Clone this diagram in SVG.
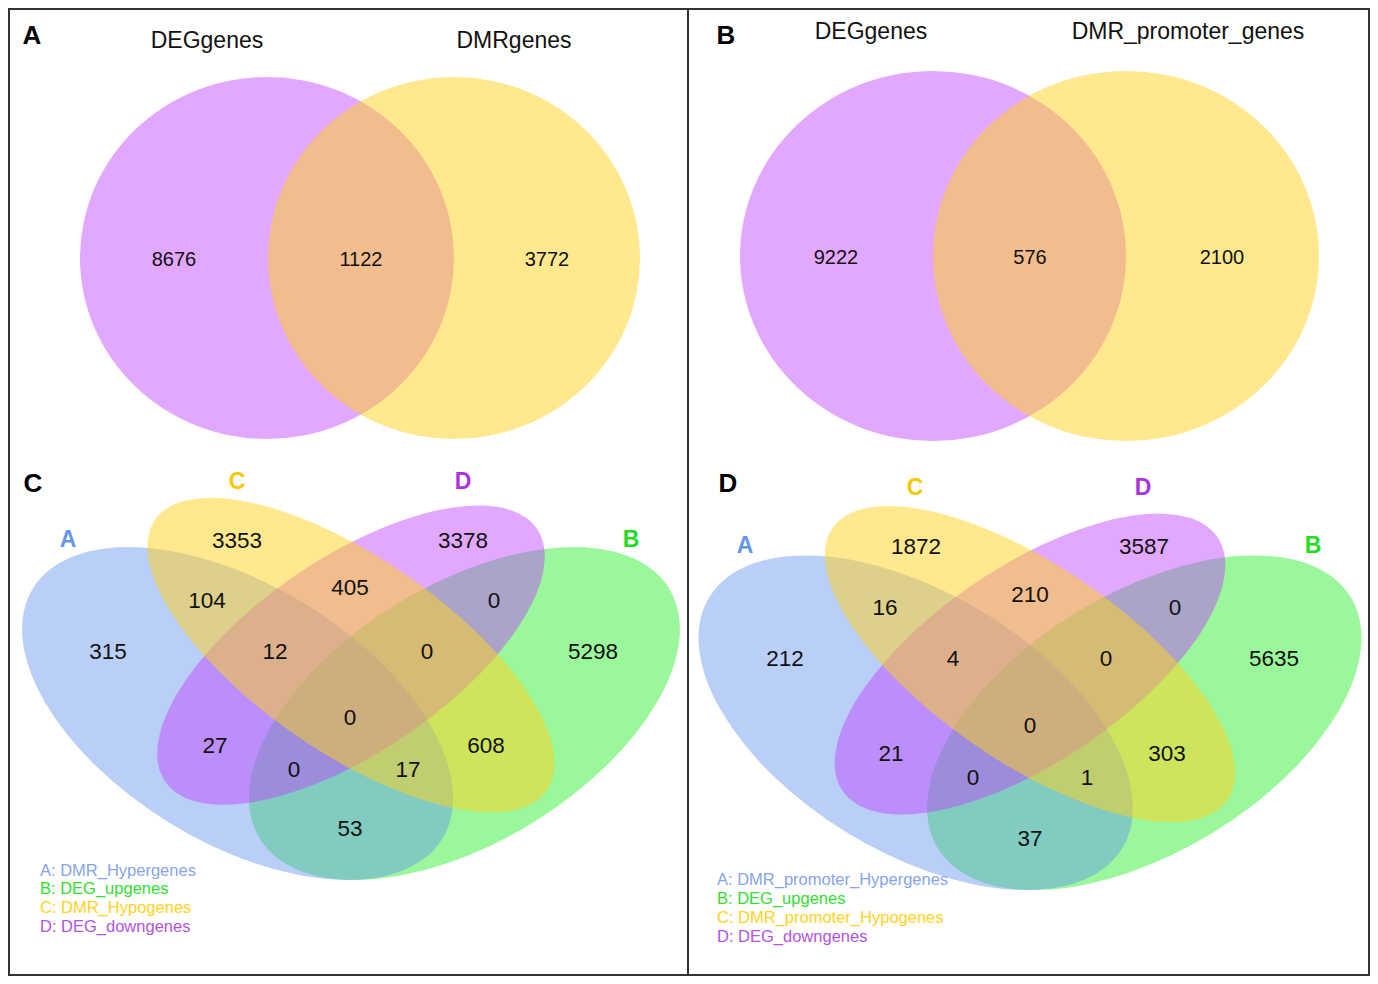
<svg xmlns="http://www.w3.org/2000/svg" width="1378" height="984" viewBox="0 0 1378 984">
<style>
text{font-family:"Liberation Sans",Arial,Helvetica,sans-serif;text-anchor:middle;fill:#111}
.title{font-size:23px}
.num{font-size:20px}
.num4{font-size:22.5px}
.plabel{font-size:26px;font-weight:bold;fill:#000}
.set{font-size:23px;font-weight:bold}
.leg{font-size:16.5px;text-anchor:start}
.fa{fill:#6495ed;fill-opacity:0.45}
.fb{fill:#22ee22;fill-opacity:0.45}
.fc{fill:#ffd21e;fill-opacity:0.5}
.fd{fill:#bf3eff;fill-opacity:0.45}
.frame{fill:none;stroke:#333;stroke-width:2}
.ca{fill:#6495ed}
.cb{fill:#22dd22}
.cc{fill:#f5c800}
.cd{fill:#aa33dd}
.la{fill:#86a4ee}
.lb{fill:#33dd33}
.lc{fill:#ffd21e}
.ld{fill:#b352e3}
</style>
<rect x="0" y="0" width="1378" height="984" fill="#fff"/>
<g id="frame">
<rect class="frame" x="9" y="9" width="1360" height="966"/>
<line class="frame" x1="688" y1="9" x2="688" y2="975"/>
</g>

<g id="panelA">
<text class="plabel" x="32" y="44">A</text>
<text class="title" x="207" y="48">DEGgenes</text>
<text class="title" x="514" y="48">DMRgenes</text>
<ellipse class="fd" cx="267" cy="258" rx="187" ry="181"/>
<ellipse class="fc" cx="454" cy="258" rx="186" ry="181"/>
<text class="num" x="174" y="266">8676</text>
<text class="num" x="361" y="266">1122</text>
<text class="num" x="547" y="266">3772</text>
</g>

<g id="panelB">
<text class="plabel" x="726" y="44">B</text>
<text class="title" x="871" y="39">DEGgenes</text>
<text class="title" x="1188" y="39">DMR_promoter_genes</text>
<ellipse class="fd" cx="933" cy="256" rx="193" ry="185"/>
<ellipse class="fc" cx="1126" cy="256" rx="193" ry="185"/>
<text class="num" x="836" y="264">9222</text>
<text class="num" x="1030" y="264">576</text>
<text class="num" x="1222" y="264">2100</text>
</g>

<g id="panelC">
<text class="plabel" x="33" y="492">C</text>
<g transform="translate(-27 988) scale(756 -584)">
<ellipse class="fb" cx="0" cy="0" rx="0.35" ry="0.20" transform="translate(0.65 0.47) rotate(45)"/>
<ellipse class="fa" cx="0" cy="0" rx="0.35" ry="0.20" transform="translate(0.35 0.47) rotate(-45)"/>
<ellipse class="fd" cx="0" cy="0" rx="0.33" ry="0.15" transform="translate(0.5 0.57) rotate(45)"/>
<ellipse class="fc" cx="0" cy="0" rx="0.35" ry="0.15" transform="translate(0.5 0.57) rotate(-45)"/>
</g>
<text class="set ca" x="68" y="547">A</text>
<text class="set cb" x="631" y="547">B</text>
<text class="set cc" x="237" y="489">C</text>
<text class="set cd" x="463" y="489">D</text>
<text class="num4" x="237" y="548">3353</text>
<text class="num4" x="463" y="548">3378</text>
<text class="num4" x="207" y="608">104</text>
<text class="num4" x="350" y="595">405</text>
<text class="num4" x="494" y="608">0</text>
<text class="num4" x="108" y="659">315</text>
<text class="num4" x="275" y="659">12</text>
<text class="num4" x="427" y="659">0</text>
<text class="num4" x="593" y="659">5298</text>
<text class="num4" x="350" y="725">0</text>
<text class="num4" x="215" y="753">27</text>
<text class="num4" x="486" y="753">608</text>
<text class="num4" x="294" y="777">0</text>
<text class="num4" x="408" y="777">17</text>
<text class="num4" x="350" y="836">53</text>
<text class="leg la" x="40" y="876">A: DMR_Hypergenes</text>
<text class="leg lb" x="40" y="894">B: DEG_upgenes</text>
<text class="leg lc" x="40" y="913">C: DMR_Hypogenes</text>
<text class="leg ld" x="40" y="932">D: DEG_downgenes</text>
</g>

<g id="panelD">
<text class="plabel" x="728" y="492">D</text>
<g transform="translate(649 998.6) scale(762 -587)">
<ellipse class="fb" cx="0" cy="0" rx="0.35" ry="0.20" transform="translate(0.65 0.47) rotate(45)"/>
<ellipse class="fa" cx="0" cy="0" rx="0.35" ry="0.20" transform="translate(0.35 0.47) rotate(-45)"/>
<ellipse class="fd" cx="0" cy="0" rx="0.33" ry="0.15" transform="translate(0.5 0.57) rotate(45)"/>
<ellipse class="fc" cx="0" cy="0" rx="0.35" ry="0.15" transform="translate(0.5 0.57) rotate(-45)"/>
</g>
<text class="set ca" x="745" y="553">A</text>
<text class="set cb" x="1313" y="553">B</text>
<text class="set cc" x="915" y="495">C</text>
<text class="set cd" x="1143" y="495">D</text>
<text class="num4" x="916" y="554">1872</text>
<text class="num4" x="1144" y="554">3587</text>
<text class="num4" x="885" y="615">16</text>
<text class="num4" x="1030" y="602">210</text>
<text class="num4" x="1175" y="615">0</text>
<text class="num4" x="785" y="666">212</text>
<text class="num4" x="953" y="666">4</text>
<text class="num4" x="1106" y="666">0</text>
<text class="num4" x="1274" y="666">5635</text>
<text class="num4" x="1030" y="733">0</text>
<text class="num4" x="891" y="761">21</text>
<text class="num4" x="1167" y="761">303</text>
<text class="num4" x="973" y="785">0</text>
<text class="num4" x="1087" y="785">1</text>
<text class="num4" x="1030" y="846">37</text>
<text class="leg la" x="717" y="885">A: DMR_promoter_Hypergenes</text>
<text class="leg lb" x="717" y="904">B: DEG_upgenes</text>
<text class="leg lc" x="717" y="923">C: DMR_promoter_Hypogenes</text>
<text class="leg ld" x="717" y="942">D: DEG_downgenes</text>
</g>
</svg>
